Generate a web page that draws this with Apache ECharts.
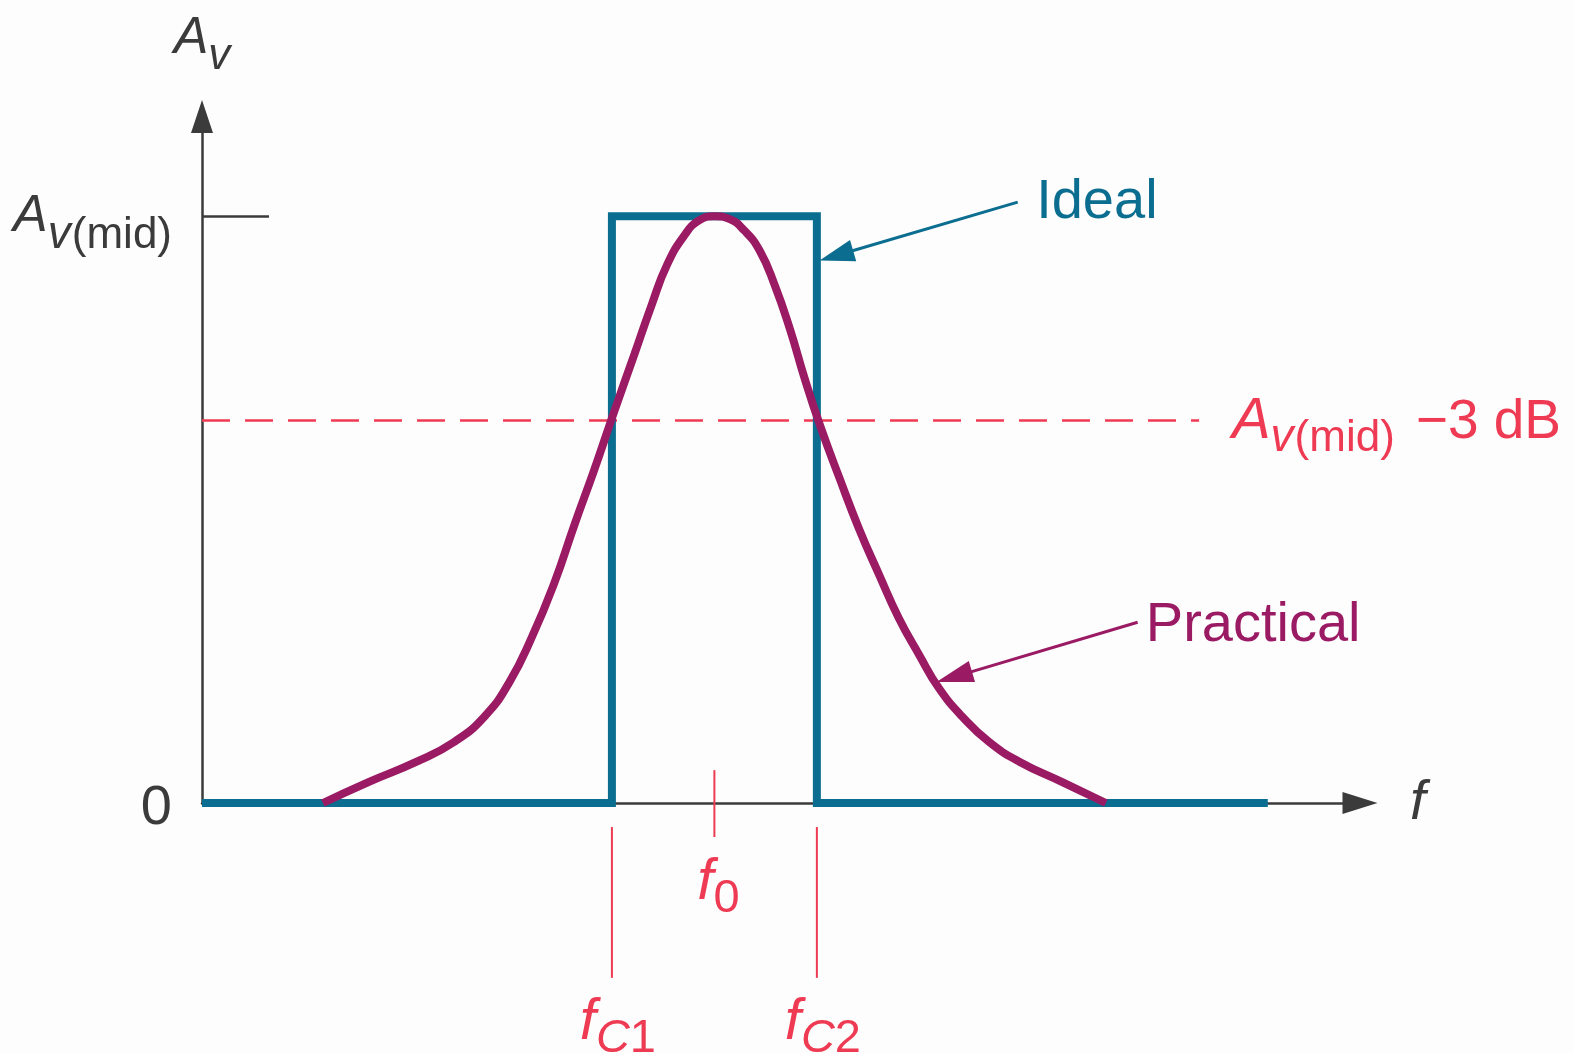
<!DOCTYPE html>
<html>
<head>
<meta charset="utf-8">
<script src="https://cdn.jsdelivr.net/npm/echarts@6/dist/echarts.min.js"></script>
<style>
  html, body { margin: 0; padding: 0; background: #fdfdfd; }
  #main { width: 1574px; height: 1053px; }
</style>
</head>
<body>
<div id="main"></div>
<script>
// frequency in arbitrary units (f0 = 50), gain relative to Av(mid)
var idealF = [0, 40, 40, 60, 60, 104];
var idealAv = [0, 0, 1, 1, 0, 0];
var practicalF = [11.8, 16.3, 20.9, 24.6, 27.6, 30.0, 32.2, 34.4, 36.3, 38.3, 40.2, 42.2, 43.9, 45.4, 47.1, 48.5, 50.0,
  51.5, 52.9, 54.4, 55.9, 57.4, 58.8, 60.3, 62.2, 64.1, 66.1, 68.0, 70.0, 71.9, 74.2, 76.8, 79.8, 83.9, 88.2];
var practicalAv = [0, 0.036, 0.070, 0.104, 0.148, 0.206, 0.283, 0.376, 0.472, 0.569, 0.666, 0.765, 0.850, 0.918, 0.968, 0.993, 1.0,
  0.995, 0.976, 0.942, 0.882, 0.806, 0.724, 0.644, 0.554, 0.468, 0.388, 0.315, 0.252, 0.196, 0.147, 0.104, 0.070, 0.036, 0];
var cutoffAv = 0.652;
var cutoffLineF = [0, 97.3];

// f ticks under the axis
var fTicks = [40, 50, 60];
var fSubs = [['C', '1'], ['', '0'], ['C', '2']];
var fTickTop = [-0.041, 0.056, -0.041];
var fTickBottom = [-0.298, -0.058, -0.298];
var fLabelAv = [-0.374, -0.136, -0.374];

// callouts
var noteText = ['Ideal', 'Practical'];
var noteF = [81.4, 92.1];
var noteAv = [1.024, 0.303];
var arrowFrom = [[79.6, 1.024], [91.3, 0.308]];
var arrowTo = [[61.9, 0.933], [73.4, 0.215]];
var cutoffLabelAt = [100.5, 0.649];

var FONT = 'Liberation Sans, Arial, sans-serif';
var GRAY = '#3b3b3b', BLUE = '#0b6d8f', PURPLE = '#9a1b64', RED = '#ee3a52';

// A with subscript v(mid); sub tokens pushed down so their baseline sits `drop` px below A's
function avRich(color, aSize, vSize, mSize, drop, nSize) {
  var base = 0.8465 * aSize;
  function pad(size, d) { return Math.max(0, base + d - 0.8465 * size); }
  return {
    a: { fontFamily: FONT, fontStyle: 'italic', fontSize: aSize, lineHeight: aSize, verticalAlign: 'top', color: color },
    v: { fontFamily: FONT, fontStyle: 'italic', fontSize: vSize, lineHeight: vSize, verticalAlign: 'top', padding: [pad(vSize, drop), 0, 0, 0], color: color },
    m: { fontFamily: FONT, fontSize: mSize, lineHeight: mSize, verticalAlign: 'top', padding: [pad(mSize, drop), 0, 0, 1], color: color },
    n: { fontFamily: FONT, fontSize: nSize, lineHeight: nSize, verticalAlign: 'top', padding: [pad(nSize, 0), 0, 0, 21], color: color },
    z: { fontFamily: FONT, fontSize: 56, lineHeight: 56, padding: [12, 0, 0, 0], color: color }
  };
}

var fRich = {
  f: { fontFamily: FONT, fontStyle: 'italic', fontSize: 58, lineHeight: 58, verticalAlign: 'top', color: RED },
  c: { fontFamily: FONT, fontStyle: 'italic', fontSize: 47, lineHeight: 47, verticalAlign: 'top', padding: [22, 0, 0, 0], color: RED },
  d: { fontFamily: FONT, fontSize: 47, lineHeight: 47, verticalAlign: 'top', padding: [22, 0, 0, 0], color: RED }
};

function pairs(xs, ys) {
  return xs.map(function (x, i) { return [x, ys[i]]; });
}

var series = [];

series.push({
  name: 'cutoff', type: 'line', silent: true, symbol: 'none',
  data: pairs(cutoffLineF, [cutoffAv, cutoffAv]),
  lineStyle: { color: RED, width: 2.5, type: [28, 15] },
  z: 2
});

series.push({
  name: 'Ideal', type: 'line', silent: true, symbol: 'none',
  data: pairs(idealF, idealAv),
  lineStyle: { color: BLUE, width: 8, join: 'miter', cap: 'butt' },
  markLine: {
    silent: true, symbol: ['none', 'triangle'], symbolSize: [22, 35],
    label: { show: false },
    lineStyle: { color: BLUE, width: 3, type: 'solid' },
    data: [[{ coord: arrowFrom[0] }, { coord: arrowTo[0] }]]
  },
  z: 3
});

series.push({
  name: 'Practical', type: 'line', silent: true, symbol: 'none', smooth: 0.5,
  data: pairs(practicalF, practicalAv),
  lineStyle: { color: PURPLE, width: 8, cap: 'butt' },
  markLine: {
    silent: true, symbol: ['none', 'triangle'], symbolSize: [22, 37],
    label: { show: false },
    lineStyle: { color: PURPLE, width: 3, type: 'solid' },
    data: [[{ coord: arrowFrom[1] }, { coord: arrowTo[1] }]]
  },
  z: 4
});

fTicks.forEach(function (f, i) {
  series.push({
    type: 'line', silent: true, symbol: 'none', clip: false,
    data: [[f, fTickTop[i]], [f, fTickBottom[i]]],
    lineStyle: { color: RED, width: 2 },
    z: 5
  });
});

series.push({
  type: 'scatter', silent: true, symbolSize: 0, clip: false,
  itemStyle: { opacity: 1 },
  data: fTicks.map(function (f, i) {
    return {
      value: [f, fLabelAv[i]],
      label: {
        formatter: '{f|f}' + (fSubs[i][0] ? '{c|' + fSubs[i][0] + '}' : '') + '{d|' + fSubs[i][1] + '}',
        offset: [fSubs[i][0] ? 6 : 4, 0]
      }
    };
  }),
  label: { show: true, opacity: 1, position: 'inside', rich: fRich },
  z: 6
});

series.push({
  type: 'scatter', silent: true, symbolSize: 0, clip: false,
  itemStyle: { opacity: 1 },
  data: noteText.map(function (t, i) {
    return {
      value: [noteF[i], noteAv[i]],
      label: { formatter: t, color: i === 0 ? BLUE : PURPLE }
    };
  }),
  label: { show: true, opacity: 1, position: 'right', distance: 0, fontFamily: FONT, fontSize: 56 },
  z: 6
});

series.push({
  type: 'scatter', silent: true, symbolSize: 0, clip: false,
  itemStyle: { opacity: 1 },
  data: [{ value: cutoffLabelAt }],
  label: {
    show: true, opacity: 1, position: 'right', distance: 0,
    formatter: '{a|A}{v|v}{m|(mid)}{n|\u22123 dB}',
    rich: avRich(RED, 58, 46, 44, 12, 55)
  },
  z: 6
});

var chart = echarts.init(document.getElementById('main'), null, { renderer: 'canvas' });
chart.setOption({
  backgroundColor: '#fdfdfd',
  animation: false,
  grid: { left: 202, right: 214, top: 116.5, bottom: 250, outerBoundsMode: 'none' },
  xAxis: {
    type: 'value', min: 0, max: 113,
    axisLine: {
      show: true, onZero: false, symbol: ['none', 'triangle'], symbolSize: [22, 35],
      lineStyle: { color: GRAY, width: 2.5 }
    },
    axisTick: { show: false },
    axisLabel: { show: false },
    splitLine: { show: false },
    name: 'f', nameLocation: 'end', nameGap: 50,
    nameTextStyle: { fontFamily: FONT, fontStyle: 'italic', fontSize: 56, color: GRAY, padding: [18, 0, 0, 0] }
  },
  yAxis: {
    type: 'value', min: 0, max: 1.17,
    axisLine: {
      show: true, onZero: false, symbol: ['none', 'triangle'], symbolSize: [22, 33],
      lineStyle: { color: GRAY, width: 2.5 }
    },
    axisTick: { show: true, inside: true, length: 67, customValues: [1], lineStyle: { color: GRAY, width: 2.5 } },
    axisLabel: {
      show: true, margin: 30, customValues: [0, 1],
      formatter: function (v) { return v === 0 ? '{z|0}' : '{a|A}{v|v}{m|(mid)}'; },
      rich: avRich(GRAY, 52, 46, 44, 17, 52)
    },
    splitLine: { show: false },
    name: '{a|A}{v|v}', nameLocation: 'end', nameGap: 52,
    nameTextStyle: { rich: avRich(GRAY, 52, 44, 44, 15, 52) }
  },
  series: series
});
</script>
</body>
</html>
